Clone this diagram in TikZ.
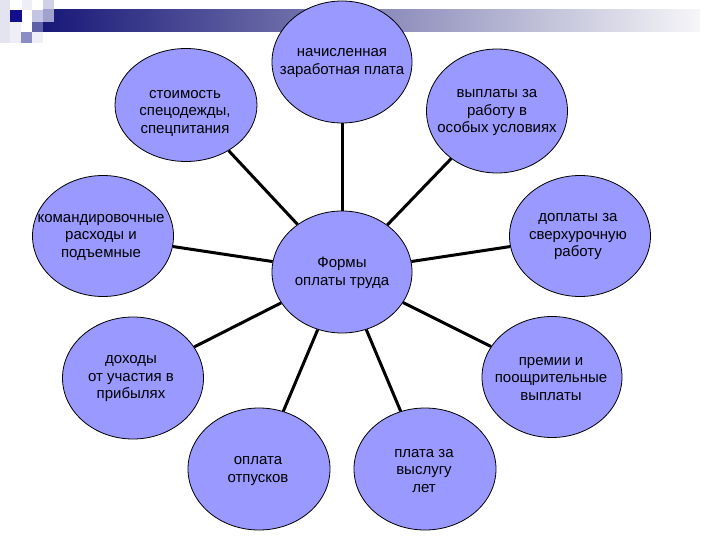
\documentclass[tikz,border=0pt]{standalone}
\usepackage{fontspec}
\setmainfont{Liberation Sans}
\usetikzlibrary{shapes.geometric}
\definecolor{bubfill}{RGB}{153,153,255}
\definecolor{hdrnavy}{RGB}{24,24,120}
\definecolor{hdrmid}{RGB}{150,150,182}
\definecolor{hdrend}{RGB}{246,246,248}
\definecolor{hdrdark}{RGB}{16,16,140}
\definecolor{hdrpale}{RGB}{228,228,240}
\definecolor{hdrpale2}{RGB}{238,238,246}
\definecolor{hdrgrey}{RGB}{140,140,196}
\definecolor{hdrlav}{RGB}{196,196,228}
\definecolor{hdrmed}{RGB}{96,96,170}
\pgfdeclarelayer{bg}
\pgfsetlayers{bg,main}
\begin{document}
\begin{tikzpicture}[x=1pt,y=-1pt,
  bub/.style={ellipse, draw=black, line width=0.8pt, fill=bubfill, inner sep=0pt},
  txt/.style={align=center, font=\fontsize{15}{17.5}\selectfont, inner sep=0pt},
  spoke/.style={line width=3pt, draw=black}]
\useasboundingbox (0,0) rectangle (720,540);
% header decoration
\fill[hdrpale] (0,0) rectangle (10,43);
\fill[hdrpale2] (10,22) rectangle (21,43);
\fill[hdrpale2] (22,0) rectangle (32,10);
\shade[left color=hdrnavy, middle color=hdrmid, right color=hdrend] (43,10) rectangle (700,32);
\fill[hdrdark] (10,10) rectangle (22,22);
\fill[hdrgrey] (21,32) rectangle (32,43);
\fill[hdrlav] (32,10) rectangle (43,22);
\fill[hdrmed] (32,22) rectangle (43,32);
\fill[hdrpale2] (32,32) rectangle (43,43);
\fill[hdrlav, opacity=0.8] (43,0) rectangle (54,22);
% ellipses
\node[bub, minimum width=140pt, minimum height=122pt] (c) at (342,272) {};
\node[bub, minimum width=140pt, minimum height=122pt] (top) at (342,62) {};
\node[bub, minimum width=142pt, minimum height=113pt] (stoim) at (186,105) {};
\node[bub, minimum width=141pt, minimum height=124pt] (vypl) at (497,111) {};
\node[bub, minimum width=141pt, minimum height=121pt] (kom) at (103,236) {};
\node[bub, minimum width=141pt, minimum height=121pt] (dopl) at (580,236) {};
\node[bub, minimum width=141pt, minimum height=122pt] (doh) at (133,378) {};
\node[bub, minimum width=140pt, minimum height=121pt] (prem) at (552,377) {};
\node[bub, minimum width=142pt, minimum height=122pt] (otp) at (259,469) {};
\node[bub, minimum width=142pt, minimum height=122pt] (vysl) at (425,469) {};
% texts
\node[txt] (top-t) at (342,63) {начисленная\\заработная плата};
\node[txt] (stoim-t) at (185,113) {стоимость\\спецодежды,\\спецпитания};
\node[txt] (vypl-t) at (497,113) {выплаты за\\работу в\\особых условиях};
\node[txt] (kom-t) at (101,237) {командировочные\\расходы и\\подъемные};
\node[txt] (dopl-t) at (578,237) {доплаты за\\сверхурочную\\работу};
\node[txt] (c-t) at (342,273) {Формы\\оплаты труда};
\node[txt] (doh-t) at (131,379) {доходы\\от участия в\\прибылях};
\node[txt] (prem-t) at (551,379) {премии и\\поощрительные\\выплаты};
\node[txt] (otp-t) at (258,471) {оплата\\отпусков};
\node[txt] (vysl-t) at (424,471) {плата за\\выслугу\\лет};
% spokes
\begin{pgfonlayer}{bg}
\foreach \n in {top,stoim,vypl,kom,dopl,doh,prem,otp,vysl}
  \draw[spoke] (c) -- (\n);
\end{pgfonlayer}
\end{tikzpicture}
\end{document}
